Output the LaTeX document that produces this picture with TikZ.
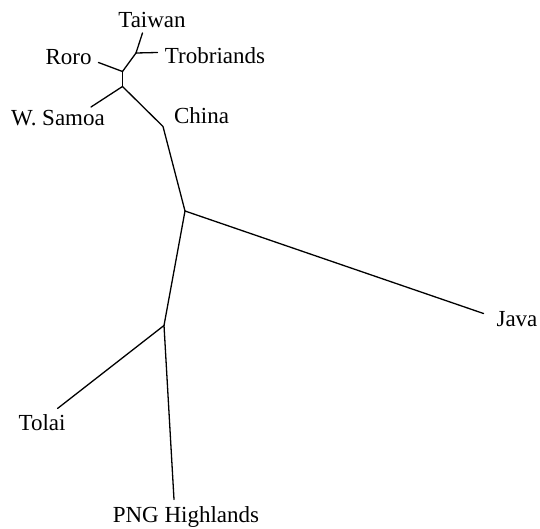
\documentclass[tikz,border=0pt]{standalone}
\usepackage{fontspec}
\setmainfont{Liberation Serif}
\begin{document}
\begin{tikzpicture}[x=1pt,y=-1pt,
  branch/.style={line width=1.3pt,line cap=round,line join=round},
  lbl/.style={font=\fontsize{23}{26}\selectfont,anchor=base,inner sep=0pt}]
\useasboundingbox (0,0) rectangle (540,529);
% internal vertices
\coordinate (tt) at (136,53);
\coordinate (ro) at (122.5,71.5);
\coordinate (ws) at (122.5,86.5);
\coordinate (cb) at (163,126.5);
\coordinate (jv) at (185,211);
\coordinate (tp) at (164,325.5);
% leaf ends
\coordinate (eTaiwan) at (142.5,33);
\coordinate (eTrob) at (157.5,52.5);
\coordinate (eRoro) at (98.5,62.5);
\coordinate (eSamoa) at (91,107);
\coordinate (eJava) at (483.5,313.5);
\coordinate (eTolai) at (57.5,408.5);
\coordinate (ePNG) at (174,499.5);
% labels
\node[lbl] (Taiwan) at (152,28) {Taiwan};
\node[lbl] (Trob) at (215,63.3) {Trobriands};
\node[lbl] (Roro) at (68.5,65) {Roro};
\node[lbl] (Samoa) at (58,126) {W. Samoa};
\node[lbl] (China) at (201.5,123.3) {China};
\node[lbl] (Java) at (517,326.7) {Java};
\node[lbl] (Tolai) at (42,430) {Tolai};
\node[lbl] (PNG) at (186,522.5) {PNG Highlands};
% branches
\draw[branch] (eTaiwan) -- (tt);
\draw[branch] (tt) -- (eTrob);
\draw[branch] (tt) -- (ro);
\draw[branch] (eRoro) -- (ro);
\draw[branch] (ro) -- (ws);
\draw[branch] (ws) -- (eSamoa);
\draw[branch] (ws) -- (cb) -- (jv);
\draw[branch] (jv) -- (eJava);
\draw[branch] (jv) -- (tp);
\draw[branch] (tp) -- (eTolai);
\draw[branch] (tp) -- (ePNG);
\end{tikzpicture}
\end{document}
